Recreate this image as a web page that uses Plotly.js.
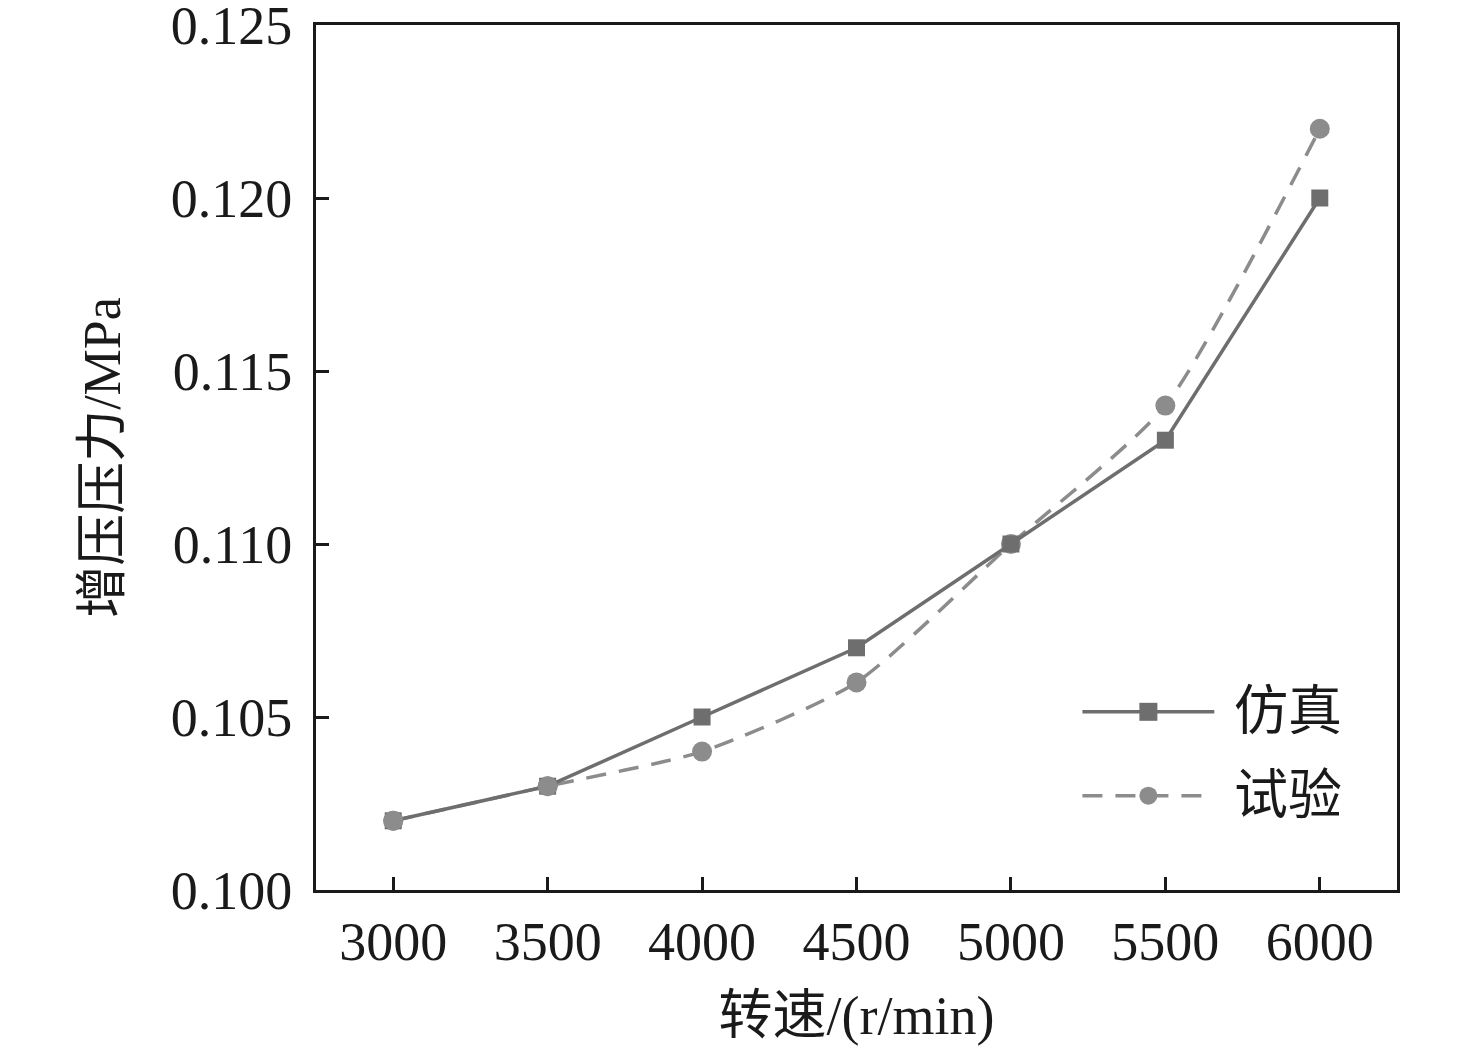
<!DOCTYPE html>
<html>
<head>
<meta charset="utf-8">
<script src="https://cdn.plot.ly/plotly-3.0.1.min.js"></script>
<style>
  html, body { margin: 0; padding: 0; background: #fff; }
  #chart { width: 1476px; height: 1059px; }
</style>
</head>
<body>
<div id="chart"></div>
<script>
// rotational speed, r/min
var speeds = [3000, 3500, 4000, 4500, 5000, 5500, 6000];
// boost pressure, MPa
var simPressure = [0.102, 0.103, 0.105, 0.107, 0.110, 0.113, 0.120];
var testPressure = [0.102, 0.103, 0.104, 0.106, 0.110, 0.114, 0.122];
var seriesNames = ['仿真', '试验'];
var yTicks = [0.100, 0.105, 0.110, 0.115, 0.120, 0.125];
var yTickText = ['0.100', '0.105', '0.110', '0.115', '0.120', '0.125'];

var FONT = 'Liberation Serif, "Times New Roman", "Noto Sans CJK SC", serif';
var simColor = '#6e6e6e';
var testColor = '#8c8c8c';
var DASH = '20px,13px';

var data = [
  {
    x: speeds, y: testPressure, name: seriesNames[1],
    type: 'scatter', mode: 'lines+markers',
    line: {color: testColor, width: 3.5, dash: DASH, shape: 'spline', smoothing: 0.6},
    marker: {symbol: 'circle', size: 20, color: testColor},
    showlegend: false
  },
  {
    x: speeds, y: simPressure, name: seriesNames[0],
    type: 'scatter', mode: 'lines+markers',
    line: {color: simColor, width: 3.5},
    marker: {symbol: 'square', size: 17, color: simColor},
    showlegend: false
  }
];

// the first two test markers sit on top of the squares in the original
data.push({
  x: speeds.slice(0, 2), y: testPressure.slice(0, 2),
  type: 'scatter', mode: 'markers',
  marker: {symbol: 'circle', size: 20, color: testColor},
  showlegend: false, hoverinfo: 'skip'
});

// hand-made legend (long sample lines like the original)
var legRows = [
  {y: 0.206, color: simColor, dash: 'solid', sym: 'rect', label: seriesNames[0]},
  {y: 0.109, color: testColor, dash: DASH, sym: 'circle', label: seriesNames[1]}
];
var shapes = [];
var annotations = [];
legRows.forEach(function (r) {
  shapes.push({type: 'line', xref: 'paper', yref: 'paper', x0: 0.709, x1: 0.831, y0: r.y, y1: r.y,
    line: {color: r.color, width: 3.5, dash: r.dash}});
  shapes.push({type: r.sym, xref: 'paper', yref: 'paper', xsizemode: 'pixel', ysizemode: 'pixel',
    xanchor: 0.770, yanchor: r.y, x0: -9, x1: 9, y0: -9, y1: 9,
    fillcolor: r.color, line: {width: 0}});
  annotations.push({xref: 'paper', yref: 'paper', x: 0.847, y: r.y, xanchor: 'left', yanchor: 'middle',
    text: r.label, showarrow: false, font: {family: FONT, size: 54, color: '#1a1a1a'}});
});

var layout = {
  width: 1476, height: 1059,
  margin: {l: 316, r: 79, t: 25, b: 169},
  paper_bgcolor: '#ffffff', plot_bgcolor: '#ffffff',
  font: {family: FONT, color: '#1a1a1a'},
  showlegend: false,
  xaxis: {
    range: [2750, 6250],
    tickvals: speeds,
    ticks: 'inside', ticklen: 13, tickwidth: 3, tickcolor: '#1a1a1a',
    showline: true, linewidth: 3, linecolor: '#1a1a1a', mirror: true,
    showgrid: false, zeroline: false,
    tickfont: {family: FONT, size: 54, color: '#1a1a1a'},
    ticklabelstandoff: 2,
    title: {text: '转速/(r/min)', font: {family: FONT, size: 54, color: '#1a1a1a'}, standoff: 26}
  },
  yaxis: {
    range: [0.100, 0.125],
    tickvals: yTicks,
    ticktext: yTickText,
    ticks: 'inside', ticklen: 13, tickwidth: 3, tickcolor: '#1a1a1a',
    showline: true, linewidth: 3, linecolor: '#1a1a1a', mirror: true,
    showgrid: false, zeroline: false,
    tickfont: {family: FONT, size: 54, color: '#1a1a1a'},
    ticklabelstandoff: 10,
    ticklabeloverflow: 'allow',
    title: {text: '增压压力/MPa', font: {family: FONT, size: 52, color: '#1a1a1a'}, standoff: 34}
  },
  shapes: shapes,
  annotations: annotations
};

Plotly.newPlot('chart', data, layout, {staticPlot: true});
</script>
</body>
</html>
